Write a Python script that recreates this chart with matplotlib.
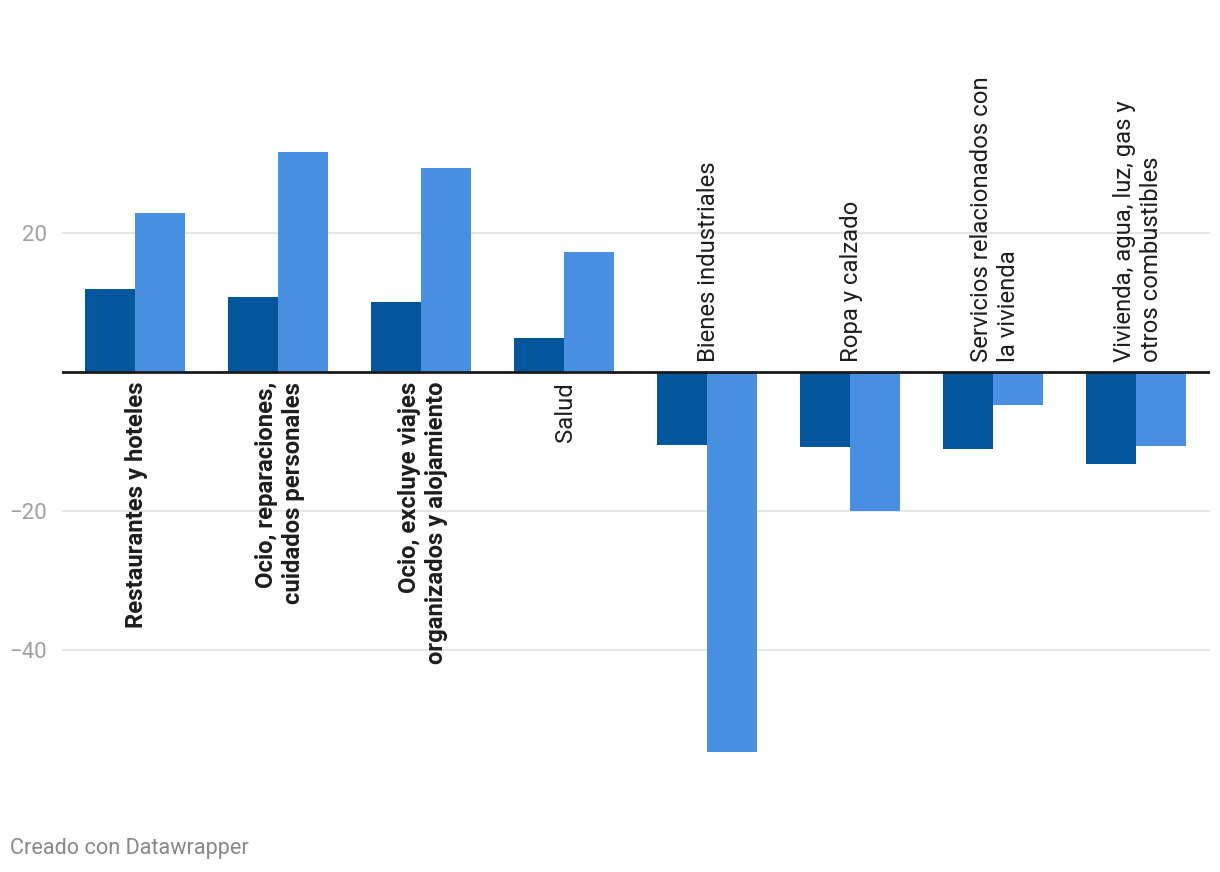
import matplotlib
matplotlib.use("Agg")
from matplotlib import pyplot as plt
import numpy as np

plt.rcParams['font.family'] = ['Roboto', 'DejaVu Sans']

categories = [
    "Restaurantes y hoteles",
    "Ocio, reparaciones,\ncuidados personales",
    "Ocio, excluye viajes\norganizados y alojamiento",
    "Salud",
    "Bienes industriales",
    "Ropa y calzado",
    "Servicios relacionados con\nla vivienda",
    "Vivienda, agua, luz, gas y\notros combustibles",
]
bold_labels = [True, True, True, False, False, False, False, False]
serie_a = [11.9, 10.8, 10.1, 4.9, -10.5, -10.8, -11.1, -13.2]
serie_b = [22.9, 31.7, 29.4, 17.3, -54.7, -20.0, -4.7, -10.6]
yticks = [20, -20, -40]

dark = "#02569b"
light = "#4a90e2"

fig = plt.figure(figsize=(12.2, 8.72), dpi=100)
ax = fig.add_axes([62 / 1220, 0.0952, 1148 / 1220, 0.8608])

x = np.arange(len(categories))
w = 0.35
ax.bar(x - w / 2, serie_a, width=w, color=dark, zorder=2)
ax.bar(x + w / 2, serie_b, width=w, color=light, zorder=2)

ax.set_xlim(-0.51, 7.518)
ax.set_ylim(-60, 48)

# grid lines + zero line
for t in yticks:
    ax.axhline(t, color="#e1e1e1", lw=1.2, zorder=0)
ax.axhline(0, color="#1a1a1a", lw=2, zorder=3)

ax.set_yticks(yticks)
ax.set_yticklabels(["20", "\u221220", "\u221240"])
ax.tick_params(axis="y", length=0, pad=11, labelsize=16, labelcolor="#a0a0a0")
ax.set_xticks([])
for s in ax.spines.values():
    s.set_visible(False)

# category labels next to the zero line
for i, (lab, vb) in enumerate(zip(categories, serie_b)):
    weight = "bold" if bold_labels[i] else "normal"
    if vb > 0:
        ax.annotate(lab, (i, 0), xytext=(2, -10), textcoords="offset pixels",
                    rotation=90, ha="center", va="top", multialignment="right",
                    fontsize=17.2, color="#1d1d1d", linespacing=1.2,
                    fontweight=weight)
    else:
        ax.annotate(lab, (i, 0), xytext=(2, 10), textcoords="offset pixels",
                    rotation=90, ha="center", va="bottom", multialignment="left",
                    fontsize=17.2, color="#1d1d1d", linespacing=1.2,
                    fontweight=weight)

fig.text(10 / 1220, 1 - 848 / 872, "Creado con Datawrapper", fontsize=15.6,
         color="#888888", ha="left", va="center")

fig.savefig("out.png", dpi=100)
